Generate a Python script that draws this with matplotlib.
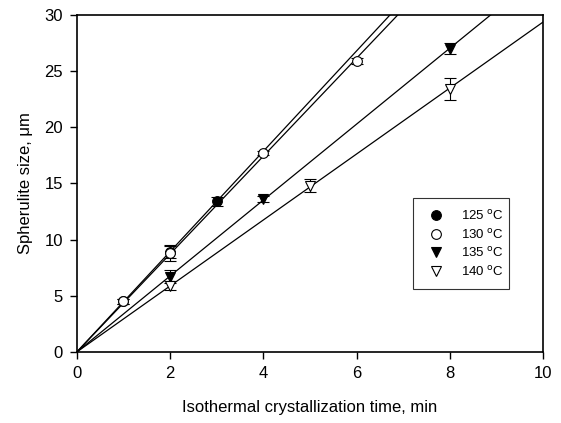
import numpy as np
import matplotlib
matplotlib.use('Agg')
from matplotlib import pyplot as plt

plt.rcParams['font.family'] = ['Liberation Sans', 'DejaVu Sans']

# data
t_125 = [1, 2, 3]
d_125 = [4.5, 8.9, 13.4]
e_125 = [0.2, 0.5, 0.4]

t_130 = [1, 2, 4, 6]
d_130 = [4.5, 8.8, 17.7, 25.9]
e_130 = [0.2, 0.7, 0.2, 0.3]

t_135 = [2, 4, 8]
d_135 = [6.7, 13.6, 27.0]
e_135 = [0.6, 0.3, 0.5]

t_140 = [2, 5, 8]
d_140 = [5.9, 14.8, 23.4]
e_140 = [0.4, 0.6, 1.0]

labels = ['125 $^{\\rm o}$C', '130 $^{\\rm o}$C', '135 $^{\\rm o}$C', '140 $^{\\rm o}$C']
markers = ['o', 'o', 'v', 'v']
faces = ['black', 'white', 'black', 'white']

fig = plt.figure(figsize=(5.61, 4.23), dpi=100)
ax = fig.add_axes([0.137, 0.168, 0.831, 0.797])

series = [(t_125, d_125, e_125), (t_130, d_130, e_130),
          (t_135, d_135, e_135), (t_140, d_140, e_140)]

tt = np.array([0, 10])
for (t, d, e), m, fc, lab in zip(series, markers, faces, labels):
    t = np.array(t, float)
    d = np.array(d, float)
    slope = np.sum(t * d) / np.sum(t * t)  # linear fit through origin
    ax.plot(tt, slope * tt, 'k-', lw=0.9, zorder=1)
    ax.errorbar(t, d, yerr=e, fmt=m, mfc=fc, mec='black', ecolor='black',
                ms=7, mew=0.8, elinewidth=0.8, capsize=4.5, capthick=0.8,
                label=lab, zorder=3)

ax.set_xlim(0, 10)
ax.set_ylim(0, 30)
ax.set_xticks(np.arange(0, 11, 2))
ax.set_yticks(np.arange(0, 31, 5))
ax.tick_params(direction='out', length=5, width=1, labelsize=12, pad=5, top=False, right=False)
for s in ax.spines.values():
    s.set_linewidth(1.2)

ax.set_xlabel('Isothermal crystallization time, min', fontsize=12, labelpad=14)
ax.set_ylabel('Spherulite size, \u03bcm', fontsize=12, labelpad=8)

handles, labs = ax.get_legend_handles_labels()
handles = [h[0] for h in handles]
leg = ax.legend(handles, labs, loc='lower left', bbox_to_anchor=(0.72, 0.186, 0.206, 0.16),
                mode='expand', borderaxespad=0, fontsize=9.5, frameon=True, fancybox=False,
                edgecolor='black', handlelength=2.0, handletextpad=0.9,
                labelspacing=0.35, borderpad=0.8)
leg.get_frame().set_linewidth(0.8)

fig.savefig('out.png', dpi=100)
